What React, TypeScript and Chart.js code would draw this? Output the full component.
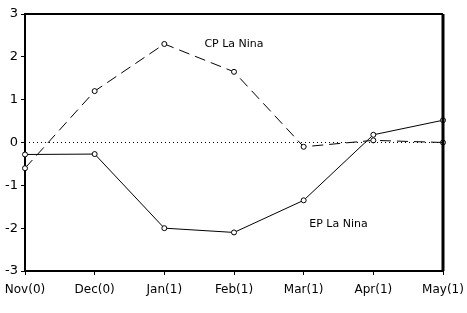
import React, { useEffect, useRef } from "react";
import { Chart, registerables } from "chart.js";

Chart.register(...registerables);

const months = ["Nov(0)", "Dec(0)", "Jan(1)", "Feb(1)", "Mar(1)", "Apr(1)", "May(1)"];
const cpLaNina = [-0.6, 1.2, 2.3, 1.65, -0.1, 0.05, 0.0];
const epLaNina = [-0.28, -0.27, -2.0, -2.1, -1.35, 0.18, 0.52];
const zeroLine = [0, 0, 0, 0, 0, 0, 0];
const annotations = [
  { text: "CP La Nina", x: 3.0, y: 2.3 },
  { text: "EP La Nina", x: 4.5, y: -1.9 },
];

const FONT = "'DejaVu Sans', sans-serif";

const framePlugin = {
  id: "frame",
  afterDraw(chart: any) {
    const { ctx, chartArea } = chart;
    const xs = chart.scales.x;
    const ys = chart.scales.y;
    ctx.save();
    ctx.strokeStyle = "#000";
    ctx.lineWidth = 2;
    ctx.beginPath();
    ctx.moveTo(chartArea.left, chartArea.top);
    ctx.lineTo(chartArea.right, chartArea.top);
    ctx.stroke();
    ctx.lineWidth = 3;
    ctx.beginPath();
    ctx.moveTo(chartArea.right, chartArea.top);
    ctx.lineTo(chartArea.right, chartArea.bottom);
    ctx.stroke();
    ctx.fillStyle = "#000";
    ctx.font = `11px ${FONT}`;
    ctx.textAlign = "center";
    ctx.textBaseline = "middle";
    for (const a of annotations) {
      const px = xs.getPixelForValue(a.x);
      const py = ys.getPixelForValue(a.y);
      ctx.fillText(a.text, px, py);
    }
    ctx.restore();
  },
};

export default function App() {
  const ref = useRef<HTMLCanvasElement>(null);
  useEffect(() => {
    if (!ref.current) return;
    const chart = new Chart(ref.current, {
      type: "line",
      data: {
        labels: months,
        datasets: [
          {
            label: "zero",
            data: zeroLine,
            borderColor: "#000",
            borderWidth: 1,
            borderDash: [1, 3],
            pointRadius: 0,
            fill: false,
          },
          {
            label: "CP La Nina",
            data: cpLaNina,
            borderColor: "#000",
            borderWidth: 1,
            borderDash: [11, 6],
            pointRadius: 2.5,
            pointBackgroundColor: "#fff",
            pointBorderColor: "#000",
            pointBorderWidth: 1,
            fill: false,
          },
          {
            label: "EP La Nina",
            data: epLaNina,
            borderColor: "#000",
            borderWidth: 1,
            pointRadius: 2.5,
            pointBackgroundColor: "#fff",
            pointBorderColor: "#000",
            pointBorderWidth: 1,
            fill: false,
          },
        ],
      },
      options: {
        animation: false,
        responsive: true,
        maintainAspectRatio: false,
        layout: { padding: { top: 14, right: 24, left: 0, bottom: 0 } },
        plugins: { legend: { display: false }, tooltip: { enabled: false } },
        scales: {
          x: {
            type: "category",
            offset: false,
            grid: { drawOnChartArea: false, drawTicks: true, tickLength: 4, color: "#000", lineWidth: 1 },
            border: { display: true, color: "#000", width: 2 },
            ticks: { color: "#000", font: { family: FONT, size: 12 }, padding: 8, maxRotation: 0, autoSkip: false },
            afterFit(scale: any) {
              scale.height = 42;
              scale.paddingLeft = 0;
              scale.paddingRight = 0;
            },
          },
          y: {
            min: -3,
            max: 3,
            grid: { drawOnChartArea: false, drawTicks: true, tickLength: 4, color: "#000", lineWidth: 1 },
            border: { display: true, color: "#000", width: 2 },
            ticks: { stepSize: 1, color: "#000", font: { family: FONT, size: 13 }, padding: 3 },
            afterFit(scale: any) {
              scale.width = 25;
              scale.paddingTop = 0;
              scale.paddingBottom = 0;
            },
          },
        },
      },
      plugins: [framePlugin],
    });
    return () => chart.destroy();
  }, []);
  return (
    <div style={{ position: "fixed", left: 0, top: 0, width: 467, height: 313, background: "#fff" }}>
      <canvas ref={ref} />
    </div>
  );
}
